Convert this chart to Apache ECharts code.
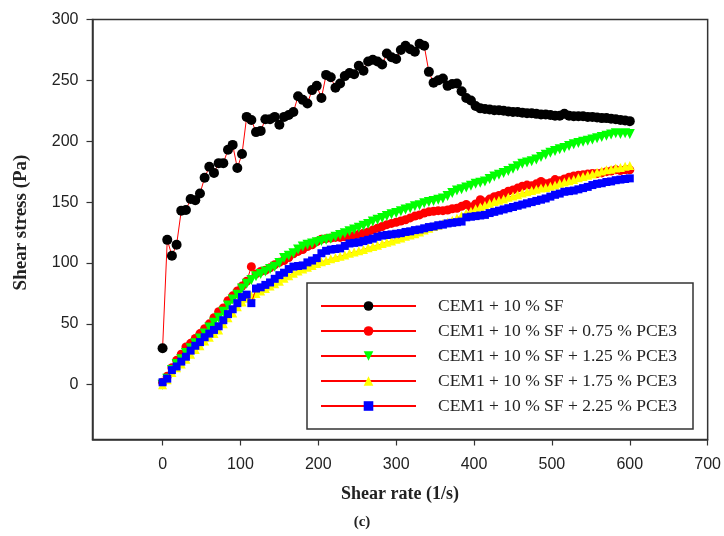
<!DOCTYPE html>
<html>
<head>
<meta charset="utf-8">
<script src="https://cdn.jsdelivr.net/npm/echarts@6/dist/echarts.min.js"></script>
<style>
  html, body { margin: 0; padding: 0; background: #fff; }
  #chart { width: 724px; height: 536px; }
</style>
</head>
<body>
<div id="chart"></div>
<script>
// Shear rate (1/s) of each measurement step, shared by all five mixes
const shearRate = [
  0, 6, 12, 18, 24, 30, 36, 42, 48, 54, 60, 66, 72, 78, 84, 90, 96, 102, 108, 114,
  120, 126, 132, 138, 144, 150, 156, 162, 168, 174, 180, 186, 192, 198, 204, 210, 216, 222, 228, 234,
  240, 246, 252, 258, 264, 270, 276, 282, 288, 294, 300, 306, 312, 318, 324, 330, 336, 342, 348, 354,
  360, 366, 372, 378, 384, 390, 396, 402, 408, 414, 420, 426, 432, 438, 444, 450, 456, 462, 468, 474,
  480, 486, 492, 498, 504, 510, 516, 522, 528, 534, 540, 546, 552, 558, 564, 570, 576, 582, 588, 594, 600
];

// Shear stress (Pa) per mix
const sf10 = [
  30, 119, 106, 115, 143, 143.5, 152.5, 151.5, 157, 170, 179, 174, 182, 182, 193, 197, 178, 189.5, 220, 217.5,
  207.5, 208.5, 218, 218, 220, 213.5, 220, 221.5, 224, 237, 234, 231, 242, 245.5, 235.5, 254.5, 252.5, 244, 247.5, 253.5,
  256, 255, 262, 258, 265.5, 267, 265.5, 263, 272, 269, 267.5, 275, 278.5, 275.5, 273.5, 280, 278.5, 257, 248, 250,
  251.5, 245.5, 247, 247.5, 241, 235.5, 233.5, 229, 227, 226.5, 226, 225.5, 225.5, 225, 224.5, 224, 224, 223.5, 223, 223,
  222.5, 222, 222, 221.5, 221, 221, 222.5, 221, 220.5, 220.5, 220.5, 220, 220, 219.5, 219, 219, 218.5, 218, 217.5, 217, 216.5
];
const sf10Pce075 = [
  2, 7, 14, 20, 25, 31, 34, 38, 42, 46, 50, 55, 60, 63, 69, 73, 77, 81, 85, 97,
  91, 93, 94, 96, 98.5, 100.5, 102, 104.5, 107.5, 109.5, 111, 113.5, 115, 117.5, 119.5, 120, 120.5, 121, 121, 121.5,
  122, 122.5, 123.5, 124.5, 125.5, 127, 128.5, 130, 131.5, 132.5, 133.5, 134.5, 135.5, 137, 138.5, 139.5, 141, 142, 142.5, 143,
  143, 143.5, 144.5, 145, 146.5, 148, 146, 148.5, 152, 150, 152.5, 154.5, 155.5, 157, 159, 160, 161.5, 163, 164, 163.5,
  165, 167, 165, 166, 168.5, 167.5, 169, 170.5, 171.5, 172, 172.5, 173, 173.5, 173.5, 174, 175, 175.5, 176.5, 176, 176.5, 176.5
];
const sf10Pce125 = [
  0, 5, 12, 17, 21, 26, 30, 34, 38, 42, 47, 51, 55, 60, 65, 70, 74, 79, 83, 86,
  89, 91, 93, 95, 97, 100, 104, 106, 108, 111, 113.5, 115, 116, 117, 118, 119, 120, 121.5, 123, 124.5,
  126, 127.5, 129, 130.5, 132, 134, 135.5, 137, 138.5, 140, 141, 142.5, 144, 145, 146.5, 147.5, 149, 150, 151, 152,
  153, 155, 157.5, 159.5, 160.5, 162, 163.5, 165, 166, 167, 169, 171, 172.5, 174, 175.5, 177.5, 179.5, 181.5, 182.5, 183.5,
  185, 187, 189, 190.5, 192, 193.5, 194.5, 196, 197.5, 198.5, 199.5, 200.5, 201.5, 202.5, 203.5, 204.5, 205.5, 206.5, 206, 206.5, 206
];
const sf10Pce175 = [
  0, 4, 10, 14, 17, 21, 25, 29, 32, 36, 39, 42, 45, 50, 55, 59, 64, 68, 71, 73,
  75, 77, 79, 81, 83, 85, 87.5, 89.5, 91.5, 93.5, 95, 96.5, 98, 99.5, 101, 102, 103.5, 104.5, 105.5, 106.5,
  108, 109, 110, 111, 112.5, 113.5, 114.5, 116, 117, 118, 119.5, 120.5, 122, 123, 124, 125.5, 127, 128.5, 130, 131,
  132.5, 133.5, 135, 137, 139, 141, 142.5, 144.5, 146, 147.5, 149, 150.5, 151.5, 152.5, 154, 155, 156, 157.5, 158.5, 159.5,
  160.5, 161.5, 162, 163, 164, 165.5, 166.5, 167.5, 168.5, 170, 171, 172, 173, 174.5, 175.5, 176.5, 177, 178, 178.5, 179.5, 180
];
const sf10Pce225 = [
  2, 5, 12, 15, 19, 23, 28, 32, 35, 39, 42, 45, 48, 53, 58, 62, 67, 72, 74, 67,
  79, 80, 82, 84, 87, 90, 92, 95, 97, 97.5, 98, 100.5, 102, 104, 108, 110, 111, 111.5, 112, 114,
  116, 116.5, 117, 118, 119, 120, 121.5, 122.5, 123, 123.5, 124, 124.5, 125.5, 126, 127, 127.5, 128.5, 129.5, 130, 131,
  131.5, 132.5, 133, 133.5, 134, 137.5, 138, 138.5, 139, 139.5, 141, 142, 143, 144, 145, 146, 147, 148, 149, 150,
  151, 152, 153, 154.5, 156, 157, 158.5, 159, 159.5, 160.5, 161.5, 162.5, 164, 165, 165.5, 166.5, 167, 168, 168.5, 169, 169.5
];

const seriesNames = [
  'CEM1 + 10 % SF',
  'CEM1 + 10 % SF + 0.75 % PCE3',
  'CEM1 + 10 % SF + 1.25 % PCE3',
  'CEM1 + 10 % SF + 1.75 % PCE3',
  'CEM1 + 10 % SF + 2.25 % PCE3'
];
const xTicks = [0, 100, 200, 300, 400, 500, 600, 700];
const yTicks = [0, 50, 100, 150, 200, 250, 300];

const markerStyles = [
  { symbol: 'circle', size: 10, color: '#000000', rotate: 0 },
  { symbol: 'circle', size: 9, color: '#ff0000', rotate: 0 },
  { symbol: 'triangle', size: 10, color: '#00ff00', rotate: 180 },
  { symbol: 'triangle', size: 9, color: '#ffff00', rotate: 0 },
  { symbol: 'rect', size: 8, color: '#0000ff', rotate: 0 }
];
const stressSets = [sf10, sf10Pce075, sf10Pce125, sf10Pce175, sf10Pce225];

const series = stressSets.map((vals, k) => ({
  name: seriesNames[k],
  type: 'line',
  data: shearRate.map((x, i) => [x, vals[i]]),
  symbol: markerStyles[k].symbol,
  symbolSize: markerStyles[k].size,
  symbolRotate: markerStyles[k].rotate,
  showSymbol: true,
  lineStyle: { color: '#ff0000', width: 1 },
  itemStyle: { color: markerStyles[k].color, borderWidth: 0 },
  emphasis: { disabled: true },
  z: 2 + k
}));

const serif = '"Liberation Serif", "Times New Roman", serif';
const sans = '"Liberation Sans", Arial, sans-serif';

const chart = echarts.init(document.getElementById('chart'), null, { renderer: 'canvas' });
chart.setOption({
  animation: false,
  backgroundColor: '#ffffff',
  title: {
    text: '(c)',
    left: 'center',
    top: 510,
    textStyle: { fontFamily: serif, fontWeight: 'bold', fontSize: 15, color: '#222' }
  },
  grid: {
    left: 92.5, top: 19.5, right: 16, bottom: 96.5,
    show: true, borderColor: '#333', borderWidth: 1.5, backgroundColor: 'transparent'
  },
  legend: {
    orient: 'vertical',
    left: 307, top: 283,
    padding: [14, 16, 14, 13],
    itemGap: 7,
    itemWidth: 95,
    itemHeight: 12,
    borderColor: '#333',
    borderWidth: 1.5,
    backgroundColor: '#ffffff',
    data: seriesNames,
    textStyle: { fontFamily: serif, fontSize: 17.5, color: '#222', padding: [0, 0, 0, 17] }
  },
  xAxis: {
    type: 'value',
    min: -90, max: 700,
    name: 'Shear rate (1/s)',
    nameLocation: 'middle',
    nameGap: 46,
    nameTextStyle: { fontFamily: serif, fontWeight: 'bold', fontSize: 18, color: '#222' },
    axisLine: { show: true, onZero: false, lineStyle: { color: '#333', width: 1.5 } },
    axisTick: { show: true, inside: false, length: 6, customValues: xTicks, lineStyle: { color: '#333', width: 1.2 } },
    axisLabel: { customValues: xTicks, margin: 17, fontFamily: sans, fontSize: 16, color: '#222' },
    splitLine: { show: false }
  },
  yAxis: {
    type: 'value',
    min: -45, max: 300,
    name: 'Shear stress (Pa)',
    nameLocation: 'middle',
    nameGap: 62,
    nameTextStyle: { fontFamily: serif, fontWeight: 'bold', fontSize: 19, color: '#222', padding: [0, 0, 0, 14] },
    axisLine: { show: true, onZero: false, lineStyle: { color: '#333', width: 1.5 } },
    axisTick: { show: true, inside: false, length: 6, customValues: yTicks, lineStyle: { color: '#333', width: 1.2 } },
    axisLabel: { customValues: yTicks, margin: 14, fontFamily: sans, fontSize: 16, color: '#222' },
    splitLine: { show: false }
  },
  series: series
});
</script>
</body>
</html>
